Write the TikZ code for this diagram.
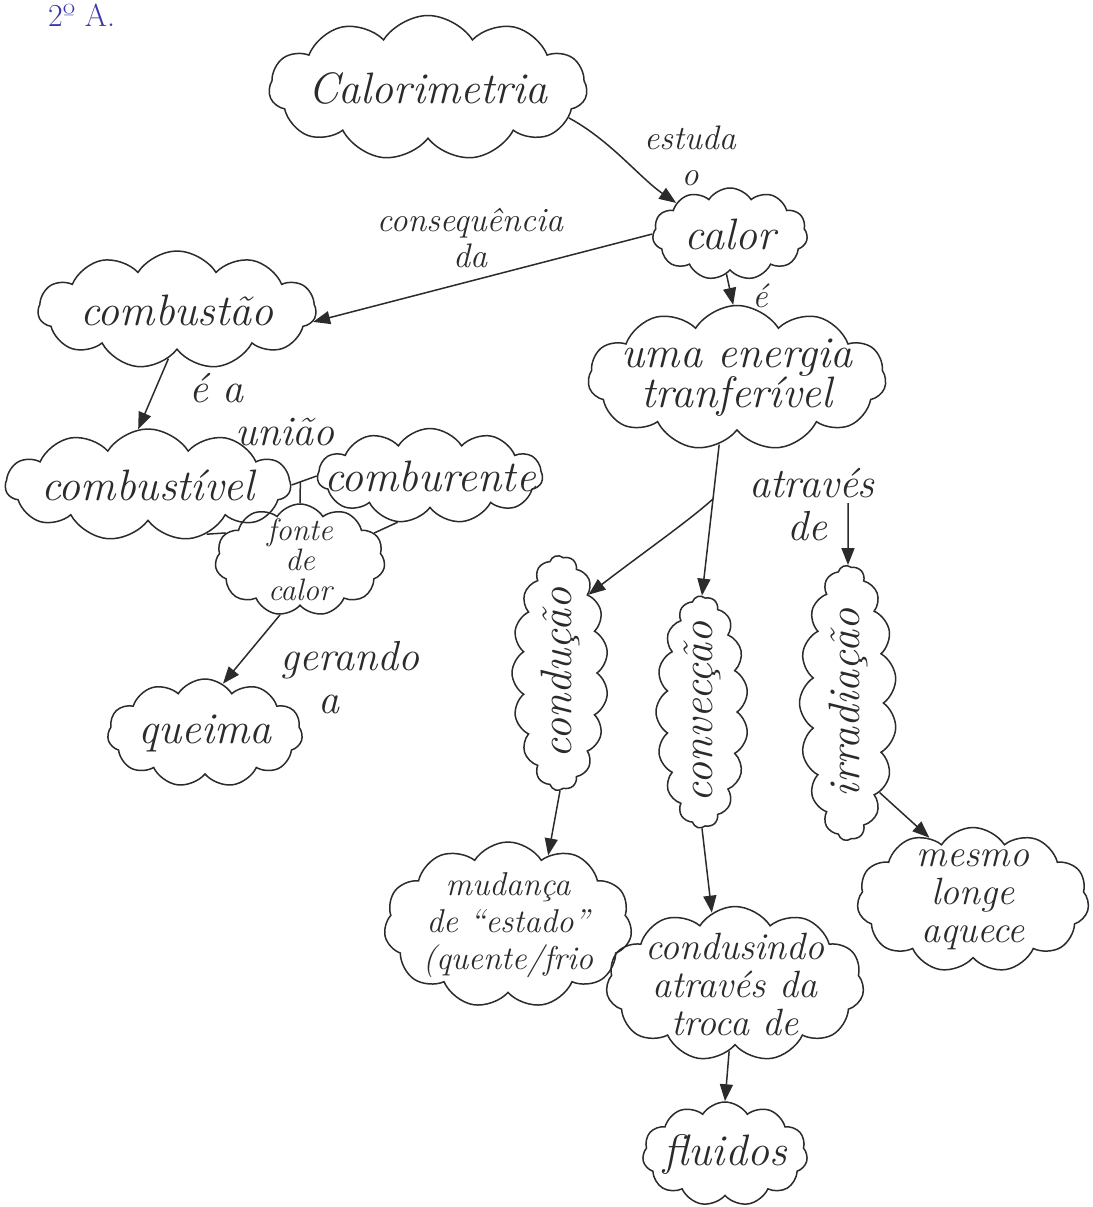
\documentclass[tikz,border=0pt]{standalone}
\usetikzlibrary{shapes.symbols,arrows.meta,calc}
\definecolor{inkc}{HTML}{2B2B2B}
\definecolor{bluepen}{HTML}{3A3AA8}
\newcommand\cloudfont{\fontsize{44}{40}\selectfont\itshape}
\newcommand\cloudfontsmall{\fontsize{38}{38}\selectfont\itshape}
\newcommand\tagfont{\fontsize{34}{36}\selectfont\itshape}
\newcommand\tagfontbig{\fontsize{42}{43}\selectfont\itshape}
\begin{document}
\begin{tikzpicture}[x=1pt,y=-1pt,
  puff/.style={cloud, cloud puffs=11, cloud puff arc=115, cloud ignores aspect,
    draw=inkc, line width=1.5pt, inner sep=0pt},
  tall/.style={puff, cloud puffs=17, rotate=90},
  txt/.style={text=inkc, font=\cloudfont, align=center, inner sep=0pt},
  txtsm/.style={txt, font=\cloudfontsmall},
  tag/.style={text=inkc, font=\tagfont, align=center, inner sep=1pt},
  tagbig/.style={tag, font=\tagfontbig},
  arr/.style={draw=inkc, line width=1.5pt, -{Triangle[length=17pt,width=13pt]}},
  link/.style={draw=inkc, line width=1.5pt}]
\fill[white] (0,0) rectangle (1092,1207);
\useasboundingbox (0,0) rectangle (1092,1207);

% class tag in blue pen
\node[text=bluepen, font=\fontsize{32}{32}\selectfont, anchor=base west, inner sep=0pt] (turma) at (48,27) {2º A.};

% concept clouds
\node[puff, minimum width=318pt, minimum height=145pt, label={[txt]center:Calorimetria}] (calori) at (428,88) {};
\node[puff, minimum width=155pt, minimum height=92pt, label={[txt]center:calor}] (calor) at (730,234) {};
\node[puff, minimum width=298pt, minimum height=145pt, label={[txt]center:uma energia\\tranferível}] (energia) at (737,378) {};
\node[puff, minimum width=278pt, minimum height=118pt, label={[txt]center:combustão}] (combustao) at (177,310) {};
\node[puff, minimum width=285pt, minimum height=112pt, label={[txt]center:combustível}] (combustivel) at (148,485) {};
\node[puff, minimum width=225pt, minimum height=95pt, label={[txt]center:comburente}] (comburente) at (430,476) {};
\node[puff, minimum width=170pt, minimum height=112pt, label={[txt, font=\fontsize{31}{30}\selectfont\itshape]center:fonte\\de\\calor}] (fonte) at (300,560) {};
\node[puff, minimum width=195pt, minimum height=108pt, label={[txt]center:queima}] (queima) at (205,733) {};
\node[tall, minimum width=235pt, minimum height=96pt, label={[txt, rotate=90]center:condução}] (conducao) at (560,673) {};
\node[tall, minimum width=232pt, minimum height=92pt, label={[txt, rotate=90]center:convecção}] (conveccao) at (702,712) {};
\node[tall, minimum width=275pt, minimum height=97pt, label={[txt, rotate=90]center:irradiação}] (irradiacao) at (848,703) {};
\node[puff, minimum width=248pt, minimum height=166pt, label={[txt, font=\fontsize{33}{37}\selectfont\itshape]center:mudança\\de “estado”\\(quente/frio}] (mudanca) at (508,925) {};
\node[puff, minimum width=258pt, minimum height=155pt, label={[txtsm]center:condusindo\\através da\\troca de}] (condusindo) at (735,984) {};
\node[puff, minimum width=232pt, minimum height=145pt, label={[txtsm]center:mesmo\\longe\\aquece}] (mesmo) at (973,900) {};
\node[puff, minimum width=165pt, minimum height=104pt, label={[txt]center:fluidos}] (fluidos) at (725,1154) {};

% linking phrases
\node[tag] (estuda) at (690,156) {estuda\\o};
\node[tag] (consequencia) at (470,238) {consequência\\da};
\node[tag] (e1) at (760,296) {é};
\node[tagbig, align=left] (uniao) at (262,410) {é a\\\hspace*{1.1em}união};
\node[tagbig, align=left] (gerando) at (350,678) {gerando\\\hspace*{0.9em}a};
\node[tagbig, align=left] (atraves) at (812,505) {através\\\hspace*{0.9em}de};

% connectors
\draw[arr] (calori.-12) .. controls (610,140) and (640,178) .. (calor.150);
\draw[arr] (calor.west) -- (combustao.-5);
\draw[arr] (calor.265) -- (energia.93);

\coordinate (fork) at ($(energia.255)!0.36!(conveccao.east)$);
\draw[arr] (energia.255) -- (conveccao.east);
\draw[arr] (fork) .. controls (690,520) and (640,555) .. (conducao.-20);
\coordinate (deend) at (848,503);
\draw[arr] (deend) -- (irradiacao.east);

\draw[arr] (combustao.-100) -- (combustivel.100);
\coordinate (tj) at ($(combustivel.east)!0.35!(comburente.west)$);
\draw[link] (combustivel.east) -- (comburente.west);
\draw[link] (tj) -- (fonte.north);
\draw[link] (combustivel.-40) -- (fonte.160);
\draw[link] (comburente.-125) -- (fonte.20);
\draw[arr] (fonte.-110) -- (queima.70);

\draw[arr] (conducao.west) -- (mudanca.60);
\draw[arr] (conveccao.west) -- (condusindo.108);
\draw[arr] (irradiacao.south west) -- (mesmo.125);
\draw[arr] (condusindo.-95) -- (fluidos.north);
\end{tikzpicture}
\end{document}
